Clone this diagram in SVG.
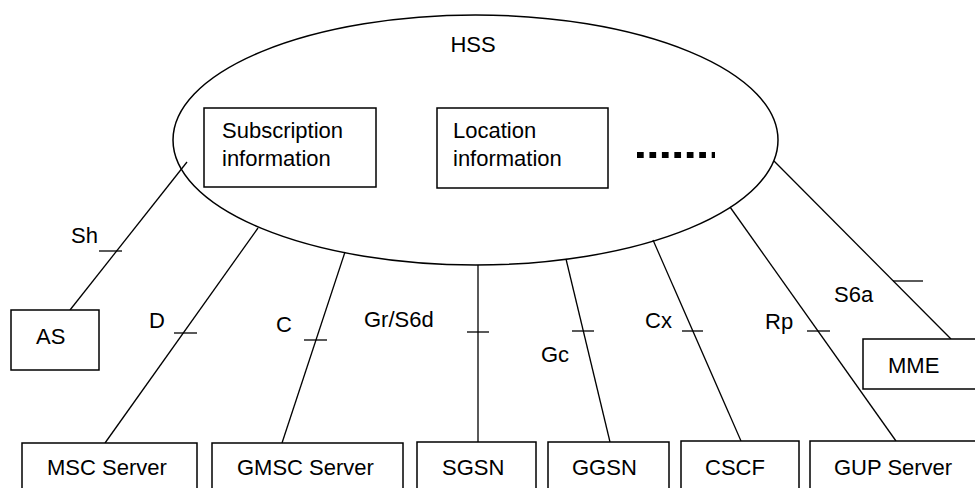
<svg xmlns="http://www.w3.org/2000/svg" width="975" height="488" viewBox="0 0 975 488">
<style>
text{font-family:"Liberation Sans",Arial,sans-serif;font-size:22px;fill:#000}
.box{fill:#fff;stroke:#000;stroke-width:1.5}
.ln{stroke:#000;stroke-width:1.3;fill:none}
</style>
<rect width="975" height="488" fill="#fff"/>
<g id="connectors">
<line class="ln" x1="187" y1="162" x2="70" y2="310"/>
<line class="ln" x1="99" y1="251" x2="122" y2="251"/>
<line class="ln" x1="258" y1="228" x2="105" y2="443"/>
<line class="ln" x1="174" y1="333" x2="197" y2="333"/>
<line class="ln" x1="345" y1="252" x2="282" y2="443"/>
<line class="ln" x1="304" y1="340" x2="327" y2="340"/>
<line class="ln" x1="478" y1="265" x2="478" y2="442"/>
<line class="ln" x1="467" y1="332" x2="489" y2="332"/>
<line class="ln" x1="566" y1="259" x2="610" y2="442"/>
<line class="ln" x1="572" y1="331" x2="594" y2="331"/>
<line class="ln" x1="653" y1="240" x2="741" y2="441"/>
<line class="ln" x1="682" y1="331" x2="703" y2="331"/>
<line class="ln" x1="730" y1="207" x2="896" y2="441"/>
<line class="ln" x1="807" y1="331" x2="830" y2="331"/>
<line class="ln" x1="774" y1="161" x2="951" y2="339"/>
<line class="ln" x1="893" y1="281" x2="923" y2="281"/>
<text x="71" y="243">Sh</text>
<text x="149" y="328">D</text>
<text x="276" y="332">C</text>
<text x="364" y="327">Gr/S6d</text>
<text x="541" y="362">Gc</text>
<text x="645" y="328">Cx</text>
<text x="765" y="329">Rp</text>
<text x="834" y="302">S6a</text>
</g>
<g id="hss">
<ellipse cx="475.5" cy="140" rx="302.5" ry="125" fill="none" stroke="#000" stroke-width="1.5"/>
<text x="473" y="52" text-anchor="middle">HSS</text>
</g>
<g id="subscription">
<rect class="box" x="204" y="108" width="172" height="79"/>
<text x="222" y="138">Subscription</text>
<text x="222" y="166">information</text>
</g>
<g id="location">
<rect class="box" x="437" y="108" width="171" height="80"/>
<text x="453" y="138">Location</text>
<text x="453" y="166">information</text>
</g>
<g id="more">
<line x1="637" y1="155" x2="715" y2="155" stroke="#000" stroke-width="6" stroke-dasharray="6.7 5.75"/>
</g>
<g id="as">
<rect class="box" x="11" y="310" width="88" height="60"/>
<text x="36" y="344">AS</text>
</g>
<g id="mme">
<rect class="box" x="863" y="339" width="114" height="50"/>
<text x="888" y="373">MME</text>
</g>
<g id="msc">
<rect class="box" x="22" y="443" width="175" height="60"/>
<text x="47" y="475">MSC Server</text>
</g>
<g id="gmsc">
<rect class="box" x="212" y="443" width="191" height="60"/>
<text x="237" y="475">GMSC Server</text>
</g>
<g id="sgsn">
<rect class="box" x="417" y="442" width="119" height="60"/>
<text x="442" y="475">SGSN</text>
</g>
<g id="ggsn">
<rect class="box" x="548" y="442" width="121" height="60"/>
<text x="572" y="475">GGSN</text>
</g>
<g id="cscf">
<rect class="box" x="681" y="441" width="118" height="60"/>
<text x="705" y="475">CSCF</text>
</g>
<g id="gup">
<rect class="box" x="810" y="441" width="170" height="60"/>
<text x="834" y="475">GUP Server</text>
</g>
</svg>
